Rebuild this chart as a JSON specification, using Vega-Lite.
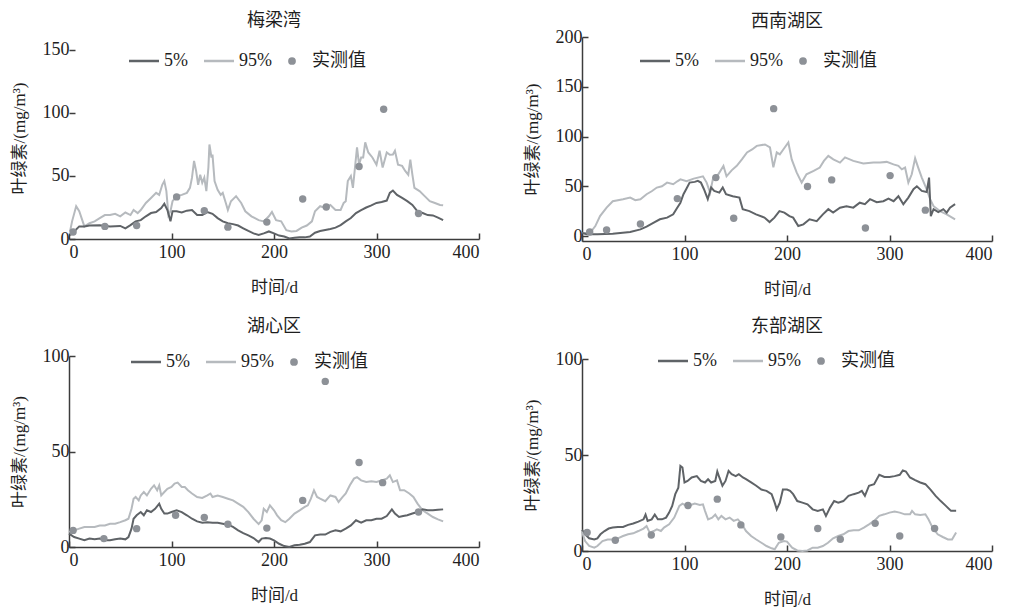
{
  "$schema": "https://vega.github.io/schema/vega-lite/v6.json",
  "padding": {"left": 10, "top": 12, "right": 5, "bottom": 2},
  "config": {
    "font": "Liberation Serif, Noto Sans CJK SC",
    "view": {"stroke": null},
    "axis": {"grid": false, "domainColor": "#3c3c3c", "tickColor": "#3c3c3c", "domainWidth": 1.5, "tickWidth": 1.5, "tickSize": -6, "labelColor": "#1e1e1e", "titleColor": "#1e1e1e", "labelFont": "Liberation Serif", "labelFontSize": 18, "titleFont": "Liberation Serif, Noto Sans CJK SC", "titleFontSize": 17, "titleFontWeight": "normal", "labelPadding": 6, "titlePadding": 14},
    "axisX": {"labelPadding": 10, "titlePadding": 18},
    "title": {"font": "Liberation Serif, Noto Sans CJK SC", "fontSize": 18, "fontWeight": "normal", "color": "#1e1e1e", "anchor": "middle"},
    "legend": {"orient": "none", "direction": "horizontal", "title": null, "labelFont": "Liberation Serif, Noto Sans CJK SC", "labelFontSize": 18, "labelColor": "#1e1e1e", "symbolSize": 900, "symbolType": "stroke", "symbolStrokeWidth": 2.5, "columnPadding": 11, "labelOffset": 11}
  },
  "datasets": {
    "p1": [
      {"s":"95%","d":1,"v":6},{"s":"95%","d":3,"v":14},{"s":"95%","d":7,"v":26},{"s":"95%","d":10,"v":22},{"s":"95%","d":15,"v":10},{"s":"95%","d":20,"v":12.5},{"s":"95%","d":25,"v":14},{"s":"95%","d":30,"v":16.5},{"s":"95%","d":35,"v":19},{"s":"95%","d":40,"v":19},{"s":"95%","d":45,"v":20},{"s":"95%","d":50,"v":18},{"s":"95%","d":55,"v":21},{"s":"95%","d":60,"v":19},{"s":"95%","d":63,"v":23},{"s":"95%","d":67,"v":20.5},{"s":"95%","d":70,"v":23},{"s":"95%","d":75,"v":28.6},{"s":"95%","d":80,"v":32.6},{"s":"95%","d":85,"v":36.6},{"s":"95%","d":88,"v":35},{"s":"95%","d":91,"v":43},{"s":"95%","d":93,"v":46},{"s":"95%","d":95,"v":38},{"s":"95%","d":97,"v":19},{"s":"95%","d":99,"v":22},{"s":"95%","d":101,"v":30},{"s":"95%","d":105,"v":34},{"s":"95%","d":110,"v":35},{"s":"95%","d":115,"v":36.6},{"s":"95%","d":118,"v":40.6},{"s":"95%","d":120,"v":48.7},{"s":"95%","d":122,"v":62},{"s":"95%","d":124,"v":54},{"s":"95%","d":126,"v":43},{"s":"95%","d":128,"v":51},{"s":"95%","d":130,"v":44.6},{"s":"95%","d":132,"v":48.7},{"s":"95%","d":134,"v":38},{"s":"95%","d":136,"v":56.7},{"s":"95%","d":137,"v":75},{"s":"95%","d":139,"v":64.7},{"s":"95%","d":140,"v":67},{"s":"95%","d":142,"v":46},{"s":"95%","d":145,"v":39},{"s":"95%","d":148,"v":35},{"s":"95%","d":150,"v":36.6},{"s":"95%","d":153,"v":28.6},{"s":"95%","d":155,"v":23},{"s":"95%","d":158,"v":30},{"s":"95%","d":163,"v":34},{"s":"95%","d":168,"v":28.6},{"s":"95%","d":172,"v":22},{"s":"95%","d":178,"v":18},{"s":"95%","d":185,"v":15},{"s":"95%","d":190,"v":14},{"s":"95%","d":195,"v":18},{"s":"95%","d":198,"v":21.4},{"s":"95%","d":202,"v":15},{"s":"95%","d":207,"v":14},{"s":"95%","d":212,"v":7},{"s":"95%","d":217,"v":6},{"s":"95%","d":222,"v":6.4},{"s":"95%","d":227,"v":9},{"s":"95%","d":232,"v":10.7},{"s":"95%","d":237,"v":14},{"s":"95%","d":240,"v":22},{"s":"95%","d":245,"v":26},{"s":"95%","d":250,"v":24.6},{"s":"95%","d":255,"v":27},{"s":"95%","d":260,"v":23},{"s":"95%","d":265,"v":23},{"s":"95%","d":268,"v":28.6},{"s":"95%","d":270,"v":30},{"s":"95%","d":272,"v":46},{"s":"95%","d":275,"v":50},{"s":"95%","d":277,"v":40.6},{"s":"95%","d":279,"v":56.7},{"s":"95%","d":281,"v":72.7},{"s":"95%","d":283,"v":59},{"s":"95%","d":285,"v":64.7},{"s":"95%","d":287,"v":64.7},{"s":"95%","d":289,"v":76.7},{"s":"95%","d":292,"v":68.7},{"s":"95%","d":296,"v":64.7},{"s":"95%","d":300,"v":59},{"s":"95%","d":303,"v":70},{"s":"95%","d":306,"v":56.7},{"s":"95%","d":310,"v":68.7},{"s":"95%","d":313,"v":66.8},{"s":"95%","d":316,"v":67},{"s":"95%","d":318,"v":70},{"s":"95%","d":321,"v":59},{"s":"95%","d":325,"v":58},{"s":"95%","d":328,"v":54},{"s":"95%","d":331,"v":51},{"s":"95%","d":333,"v":63},{"s":"95%","d":335,"v":51},{"s":"95%","d":337,"v":40.6},{"s":"95%","d":342,"v":38},{"s":"95%","d":347,"v":34},{"s":"95%","d":352,"v":30},{"s":"95%","d":357,"v":28.6},{"s":"95%","d":362,"v":27},{"s":"95%","d":365,"v":26.7},
      {"s":"5%","d":1,"v":3},{"s":"5%","d":5,"v":6},{"s":"5%","d":10,"v":10},{"s":"5%","d":15,"v":10},{"s":"5%","d":20,"v":10.7},{"s":"5%","d":30,"v":11},{"s":"5%","d":40,"v":10},{"s":"5%","d":50,"v":10.4},{"s":"5%","d":55,"v":8.5},{"s":"5%","d":60,"v":11},{"s":"5%","d":65,"v":14},{"s":"5%","d":70,"v":15},{"s":"5%","d":75,"v":18},{"s":"5%","d":80,"v":20.6},{"s":"5%","d":85,"v":21.4},{"s":"5%","d":90,"v":24.6},{"s":"5%","d":93,"v":28},{"s":"5%","d":96,"v":23},{"s":"5%","d":99,"v":14},{"s":"5%","d":101,"v":22},{"s":"5%","d":105,"v":22},{"s":"5%","d":110,"v":21},{"s":"5%","d":115,"v":22.5},{"s":"5%","d":120,"v":23},{"s":"5%","d":125,"v":19},{"s":"5%","d":130,"v":19},{"s":"5%","d":135,"v":21.4},{"s":"5%","d":140,"v":20},{"s":"5%","d":145,"v":16.6},{"s":"5%","d":150,"v":14},{"s":"5%","d":155,"v":12.5},{"s":"5%","d":160,"v":11.8},{"s":"5%","d":165,"v":10.7},{"s":"5%","d":170,"v":8.5},{"s":"5%","d":175,"v":6.4},{"s":"5%","d":180,"v":4.5},{"s":"5%","d":185,"v":3.2},{"s":"5%","d":190,"v":4.5},{"s":"5%","d":195,"v":6},{"s":"5%","d":200,"v":4.5},{"s":"5%","d":205,"v":2.7},{"s":"5%","d":210,"v":2},{"s":"5%","d":215,"v":0.5},{"s":"5%","d":220,"v":1},{"s":"5%","d":225,"v":1.3},{"s":"5%","d":230,"v":1.3},{"s":"5%","d":235,"v":2},{"s":"5%","d":240,"v":5},{"s":"5%","d":245,"v":6.4},{"s":"5%","d":250,"v":7.2},{"s":"5%","d":255,"v":8},{"s":"5%","d":260,"v":9},{"s":"5%","d":265,"v":11},{"s":"5%","d":270,"v":14},{"s":"5%","d":275,"v":16.6},{"s":"5%","d":280,"v":20.6},{"s":"5%","d":285,"v":23},{"s":"5%","d":290,"v":25},{"s":"5%","d":295,"v":26.7},{"s":"5%","d":300,"v":28.6},{"s":"5%","d":305,"v":29.4},{"s":"5%","d":310,"v":30.5},{"s":"5%","d":313,"v":36.6},{"s":"5%","d":316,"v":38.5},{"s":"5%","d":320,"v":35},{"s":"5%","d":325,"v":32.6},{"s":"5%","d":330,"v":30},{"s":"5%","d":335,"v":27},{"s":"5%","d":340,"v":22},{"s":"5%","d":345,"v":20.6},{"s":"5%","d":350,"v":19},{"s":"5%","d":355,"v":18.7},{"s":"5%","d":360,"v":17},{"s":"5%","d":365,"v":15},
      {"s":"实测值","d":4,"v":5.5},{"s":"实测值","d":35,"v":10},{"s":"实测值","d":66,"v":10.7},{"s":"实测值","d":105,"v":33.4},{"s":"实测值","d":132,"v":22.5},{"s":"实测值","d":155,"v":9.4},{"s":"实测值","d":193,"v":13.4},{"s":"实测值","d":228,"v":31.8},{"s":"实测值","d":251,"v":25.4},{"s":"实测值","d":283,"v":57.5},{"s":"实测值","d":307,"v":103},{"s":"实测值","d":341,"v":20.3}
    ],
    "p2": [
      {"s":"95%","d":0,"v":3},{"s":"95%","d":5,"v":3.4},{"s":"95%","d":10,"v":6},{"s":"95%","d":13,"v":10},{"s":"95%","d":17.6,"v":20},{"s":"95%","d":24,"v":28.5},{"s":"95%","d":30,"v":35},{"s":"95%","d":35,"v":36},{"s":"95%","d":40,"v":37},{"s":"95%","d":47,"v":38.6},{"s":"95%","d":52,"v":36},{"s":"95%","d":57,"v":37},{"s":"95%","d":63,"v":42},{"s":"95%","d":68,"v":45},{"s":"95%","d":73,"v":48.7},{"s":"95%","d":78,"v":50},{"s":"95%","d":83,"v":53.7},{"s":"95%","d":89,"v":52},{"s":"95%","d":93,"v":55},{"s":"95%","d":96,"v":57},{"s":"95%","d":102,"v":55},{"s":"95%","d":109,"v":57.7},{"s":"95%","d":118,"v":60},{"s":"95%","d":121.6,"v":53.7},{"s":"95%","d":125,"v":43.6},{"s":"95%","d":128,"v":58.7},{"s":"95%","d":133,"v":62},{"s":"95%","d":138,"v":70.5},{"s":"95%","d":141,"v":60},{"s":"95%","d":146,"v":66},{"s":"95%","d":151,"v":70.5},{"s":"95%","d":156,"v":77},{"s":"95%","d":161,"v":84},{"s":"95%","d":166,"v":87},{"s":"95%","d":170.5,"v":90.6},{"s":"95%","d":178.5,"v":92},{"s":"95%","d":183.4,"v":89},{"s":"95%","d":186.7,"v":69},{"s":"95%","d":190,"v":84},{"s":"95%","d":193,"v":82},{"s":"95%","d":196.4,"v":87},{"s":"95%","d":201.3,"v":94},{"s":"95%","d":204.6,"v":77},{"s":"95%","d":209.4,"v":64},{"s":"95%","d":214.3,"v":53.7},{"s":"95%","d":219,"v":62},{"s":"95%","d":226,"v":65.4},{"s":"95%","d":232,"v":68.8},{"s":"95%","d":236,"v":75.5},{"s":"95%","d":240.3,"v":80.5},{"s":"95%","d":245.2,"v":77},{"s":"95%","d":251.7,"v":73.8},{"s":"95%","d":256.6,"v":79},{"s":"95%","d":264.7,"v":75.5},{"s":"95%","d":274.5,"v":73},{"s":"95%","d":284.3,"v":73.8},{"s":"95%","d":290.8,"v":73.8},{"s":"95%","d":297.3,"v":74.5},{"s":"95%","d":303.9,"v":72},{"s":"95%","d":308.7,"v":70.5},{"s":"95%","d":312,"v":67},{"s":"95%","d":315.2,"v":68.8},{"s":"95%","d":318.4,"v":53.7},{"s":"95%","d":321.7,"v":62},{"s":"95%","d":325,"v":78},{"s":"95%","d":328,"v":68.8},{"s":"95%","d":331.5,"v":58.7},{"s":"95%","d":336.3,"v":47},{"s":"95%","d":339.6,"v":37},{"s":"95%","d":343,"v":30},{"s":"95%","d":349.3,"v":25},{"s":"95%","d":355.8,"v":21.8},{"s":"95%","d":364,"v":16.8},
      {"s":"5%","d":0,"v":3},{"s":"5%","d":5,"v":1.7},{"s":"5%","d":15,"v":1.7},{"s":"5%","d":30,"v":2.3},{"s":"5%","d":47,"v":4},{"s":"5%","d":57,"v":6.7},{"s":"5%","d":63,"v":9.4},{"s":"5%","d":70,"v":13.4},{"s":"5%","d":76,"v":16.8},{"s":"5%","d":83,"v":18.5},{"s":"5%","d":89,"v":21.8},{"s":"5%","d":92,"v":27},{"s":"5%","d":96,"v":33.5},{"s":"5%","d":99,"v":42},{"s":"5%","d":102,"v":47.7},{"s":"5%","d":105,"v":53.7},{"s":"5%","d":110,"v":54.4},{"s":"5%","d":113,"v":55.4},{"s":"5%","d":116,"v":53.7},{"s":"5%","d":119,"v":47},{"s":"5%","d":122.7,"v":37},{"s":"5%","d":126,"v":48.7},{"s":"5%","d":129,"v":45.3},{"s":"5%","d":134,"v":43.6},{"s":"5%","d":137.3,"v":48.7},{"s":"5%","d":140.5,"v":42},{"s":"5%","d":147,"v":40},{"s":"5%","d":153.6,"v":38.6},{"s":"5%","d":156.8,"v":27},{"s":"5%","d":163.3,"v":25},{"s":"5%","d":169.8,"v":21.8},{"s":"5%","d":178,"v":18.5},{"s":"5%","d":183,"v":14},{"s":"5%","d":187.7,"v":18.5},{"s":"5%","d":192.6,"v":25},{"s":"5%","d":197.4,"v":23.5},{"s":"5%","d":202.4,"v":20},{"s":"5%","d":206,"v":18.5},{"s":"5%","d":211,"v":10},{"s":"5%","d":216,"v":11.7},{"s":"5%","d":222,"v":16.8},{"s":"5%","d":229,"v":15},{"s":"5%","d":235,"v":21.8},{"s":"5%","d":240.3,"v":27},{"s":"5%","d":245,"v":23.5},{"s":"5%","d":251.7,"v":28.5},{"s":"5%","d":258,"v":30},{"s":"5%","d":264.7,"v":28.5},{"s":"5%","d":271,"v":33.5},{"s":"5%","d":276,"v":32},{"s":"5%","d":281,"v":37},{"s":"5%","d":287.5,"v":34},{"s":"5%","d":294,"v":35},{"s":"5%","d":299,"v":37.6},{"s":"5%","d":304,"v":35},{"s":"5%","d":308.7,"v":40},{"s":"5%","d":313.5,"v":32},{"s":"5%","d":318.4,"v":38.6},{"s":"5%","d":323.4,"v":47},{"s":"5%","d":326.7,"v":50},{"s":"5%","d":331.5,"v":45.3},{"s":"5%","d":336.3,"v":44.3},{"s":"5%","d":338.6,"v":58.7},{"s":"5%","d":340.3,"v":20},{"s":"5%","d":343,"v":27},{"s":"5%","d":347.6,"v":24},{"s":"5%","d":352.5,"v":27},{"s":"5%","d":355.8,"v":23.5},{"s":"5%","d":359,"v":28.5},{"s":"5%","d":364,"v":32},
      {"s":"实测值","d":7.5,"v":4},{"s":"实测值","d":24,"v":6},{"s":"实测值","d":57,"v":12},{"s":"实测值","d":93,"v":37.6},{"s":"实测值","d":130.6,"v":58.7},{"s":"实测值","d":148,"v":17.8},{"s":"实测值","d":187,"v":128},{"s":"实测值","d":220,"v":49.7},{"s":"实测值","d":243.6,"v":56.4},{"s":"实测值","d":276.5,"v":8},{"s":"实测值","d":300.6,"v":60.7},{"s":"实测值","d":335,"v":26}
    ],
    "p3": [
      {"s":"95%","d":0,"v":7.9},{"s":"95%","d":5,"v":8.7},{"s":"95%","d":10,"v":9.6},{"s":"95%","d":15,"v":10.5},{"s":"95%","d":20,"v":10.5},{"s":"95%","d":25,"v":10.5},{"s":"95%","d":30,"v":11.3},{"s":"95%","d":35,"v":11.3},{"s":"95%","d":40,"v":12.2},{"s":"95%","d":45,"v":12.2},{"s":"95%","d":50,"v":13},{"s":"95%","d":55,"v":14},{"s":"95%","d":58,"v":14.8},{"s":"95%","d":61,"v":20},{"s":"95%","d":63,"v":25.3},{"s":"95%","d":65,"v":26.2},{"s":"95%","d":68,"v":24.4},{"s":"95%","d":70,"v":27},{"s":"95%","d":73,"v":28.8},{"s":"95%","d":76,"v":27},{"s":"95%","d":80,"v":30.5},{"s":"95%","d":83,"v":32.3},{"s":"95%","d":86,"v":29.7},{"s":"95%","d":88,"v":32.3},{"s":"95%","d":90,"v":27},{"s":"95%","d":93,"v":28.8},{"s":"95%","d":96,"v":30.5},{"s":"95%","d":100,"v":31.4},{"s":"95%","d":103,"v":33.2},{"s":"95%","d":106,"v":33.7},{"s":"95%","d":110,"v":31.4},{"s":"95%","d":113,"v":31.4},{"s":"95%","d":116,"v":29.7},{"s":"95%","d":120,"v":28},{"s":"95%","d":125,"v":26.2},{"s":"95%","d":130,"v":25.7},{"s":"95%","d":135,"v":27},{"s":"95%","d":138,"v":28},{"s":"95%","d":140,"v":26.2},{"s":"95%","d":145,"v":27},{"s":"95%","d":150,"v":26.2},{"s":"95%","d":155,"v":25.3},{"s":"95%","d":160,"v":24.4},{"s":"95%","d":165,"v":22.7},{"s":"95%","d":170,"v":21},{"s":"95%","d":175,"v":18.3},{"s":"95%","d":180,"v":14.8},{"s":"95%","d":185,"v":12},{"s":"95%","d":188,"v":14},{"s":"95%","d":190,"v":20},{"s":"95%","d":193,"v":18.3},{"s":"95%","d":196,"v":21.8},{"s":"95%","d":200,"v":19.2},{"s":"95%","d":203,"v":16.6},{"s":"95%","d":207,"v":14},{"s":"95%","d":211,"v":13},{"s":"95%","d":215,"v":14.8},{"s":"95%","d":220,"v":17.5},{"s":"95%","d":225,"v":19.2},{"s":"95%","d":230,"v":21},{"s":"95%","d":233,"v":21.8},{"s":"95%","d":236,"v":25.3},{"s":"95%","d":239,"v":29.7},{"s":"95%","d":242,"v":26.2},{"s":"95%","d":245,"v":25.3},{"s":"95%","d":250,"v":24},{"s":"95%","d":255,"v":27},{"s":"95%","d":260,"v":26.2},{"s":"95%","d":263,"v":23.6},{"s":"95%","d":267,"v":26.2},{"s":"95%","d":270,"v":28},{"s":"95%","d":274,"v":32.3},{"s":"95%","d":278,"v":35.8},{"s":"95%","d":281,"v":36.6},{"s":"95%","d":285,"v":34.9},{"s":"95%","d":290,"v":34},{"s":"95%","d":295,"v":34.4},{"s":"95%","d":300,"v":34},{"s":"95%","d":305,"v":34.9},{"s":"95%","d":310,"v":35.8},{"s":"95%","d":313,"v":37.5},{"s":"95%","d":316,"v":34},{"s":"95%","d":320,"v":34.9},{"s":"95%","d":323,"v":29.7},{"s":"95%","d":327,"v":29.7},{"s":"95%","d":332,"v":28},{"s":"95%","d":336,"v":26.2},{"s":"95%","d":340,"v":22.7},{"s":"95%","d":345,"v":19.2},{"s":"95%","d":350,"v":17.5},{"s":"95%","d":355,"v":15.7},{"s":"95%","d":360,"v":14.5},{"s":"95%","d":365,"v":13.4},
      {"s":"5%","d":0,"v":7},{"s":"5%","d":5,"v":5.2},{"s":"5%","d":10,"v":4.4},{"s":"5%","d":15,"v":3.5},{"s":"5%","d":20,"v":4.4},{"s":"5%","d":25,"v":4},{"s":"5%","d":30,"v":4.4},{"s":"5%","d":35,"v":3.5},{"s":"5%","d":40,"v":3.5},{"s":"5%","d":45,"v":4},{"s":"5%","d":50,"v":4.4},{"s":"5%","d":55,"v":4},{"s":"5%","d":58,"v":5.2},{"s":"5%","d":61,"v":9.6},{"s":"5%","d":63,"v":14.8},{"s":"5%","d":66,"v":16.6},{"s":"5%","d":70,"v":18.3},{"s":"5%","d":73,"v":16.6},{"s":"5%","d":76,"v":19.2},{"s":"5%","d":80,"v":18.3},{"s":"5%","d":84,"v":20},{"s":"5%","d":88,"v":22.7},{"s":"5%","d":90,"v":20},{"s":"5%","d":93,"v":17.5},{"s":"5%","d":96,"v":17.5},{"s":"5%","d":100,"v":18.3},{"s":"5%","d":105,"v":19.2},{"s":"5%","d":110,"v":18.3},{"s":"5%","d":115,"v":16.6},{"s":"5%","d":120,"v":14.8},{"s":"5%","d":125,"v":13.4},{"s":"5%","d":130,"v":12.7},{"s":"5%","d":135,"v":13},{"s":"5%","d":140,"v":12.7},{"s":"5%","d":145,"v":12.7},{"s":"5%","d":150,"v":12.2},{"s":"5%","d":155,"v":11.7},{"s":"5%","d":160,"v":10.5},{"s":"5%","d":165,"v":8.7},{"s":"5%","d":170,"v":7.3},{"s":"5%","d":175,"v":6.1},{"s":"5%","d":180,"v":4.7},{"s":"5%","d":185,"v":2.6},{"s":"5%","d":188,"v":4.4},{"s":"5%","d":192,"v":4.7},{"s":"5%","d":196,"v":4.4},{"s":"5%","d":200,"v":3.5},{"s":"5%","d":205,"v":1.7},{"s":"5%","d":210,"v":0.5},{"s":"5%","d":215,"v":0},{"s":"5%","d":220,"v":0.9},{"s":"5%","d":225,"v":1.2},{"s":"5%","d":230,"v":1.7},{"s":"5%","d":235,"v":2.6},{"s":"5%","d":240,"v":6.1},{"s":"5%","d":245,"v":6.5},{"s":"5%","d":250,"v":6.5},{"s":"5%","d":255,"v":7.9},{"s":"5%","d":260,"v":8.7},{"s":"5%","d":265,"v":8.2},{"s":"5%","d":270,"v":9.6},{"s":"5%","d":275,"v":11.3},{"s":"5%","d":280,"v":14},{"s":"5%","d":285,"v":12.7},{"s":"5%","d":290,"v":14},{"s":"5%","d":295,"v":14},{"s":"5%","d":300,"v":14.8},{"s":"5%","d":305,"v":14.8},{"s":"5%","d":310,"v":16.2},{"s":"5%","d":315,"v":19.7},{"s":"5%","d":318,"v":17.5},{"s":"5%","d":322,"v":15.7},{"s":"5%","d":326,"v":16.2},{"s":"5%","d":330,"v":16.6},{"s":"5%","d":335,"v":17.5},{"s":"5%","d":340,"v":18.3},{"s":"5%","d":345,"v":19.7},{"s":"5%","d":350,"v":19.2},{"s":"5%","d":355,"v":19.2},{"s":"5%","d":360,"v":19.5},{"s":"5%","d":365,"v":19.7},
      {"s":"实测值","d":4,"v":8.7},{"s":"实测值","d":34,"v":4.4},{"s":"实测值","d":66,"v":9.6},{"s":"实测值","d":104,"v":16.6},{"s":"实测值","d":132,"v":15.5},{"s":"实测值","d":155,"v":11.9},{"s":"实测值","d":193,"v":9.9},{"s":"实测值","d":228,"v":24.4},{"s":"实测值","d":250,"v":86.7},{"s":"实测值","d":283,"v":44.2},{"s":"实测值","d":306,"v":33.7},{"s":"实测值","d":341,"v":18.3}
    ],
    "p4": [
      {"s":"5%","d":0,"v":11},{"s":"5%","d":3,"v":8.7},{"s":"5%","d":7,"v":6.6},{"s":"5%","d":12,"v":6},{"s":"5%","d":15,"v":6.6},{"s":"5%","d":18,"v":8.7},{"s":"5%","d":22,"v":10.4},{"s":"5%","d":26,"v":11.7},{"s":"5%","d":30,"v":12.2},{"s":"5%","d":35,"v":12.5},{"s":"5%","d":40,"v":12.5},{"s":"5%","d":45,"v":13.6},{"s":"5%","d":50,"v":14.3},{"s":"5%","d":55,"v":15.3},{"s":"5%","d":60,"v":16.5},{"s":"5%","d":62,"v":19},{"s":"5%","d":64,"v":15.7},{"s":"5%","d":68,"v":16.5},{"s":"5%","d":71,"v":19},{"s":"5%","d":74,"v":16.5},{"s":"5%","d":78,"v":16.5},{"s":"5%","d":82,"v":17.4},{"s":"5%","d":85,"v":20},{"s":"5%","d":88,"v":23.5},{"s":"5%","d":91,"v":29.6},{"s":"5%","d":94,"v":33},{"s":"5%","d":96,"v":44.3},{"s":"5%","d":98,"v":43.5},{"s":"5%","d":100,"v":35.7},{"s":"5%","d":103,"v":36.5},{"s":"5%","d":107,"v":38.3},{"s":"5%","d":112,"v":39},{"s":"5%","d":116,"v":36.5},{"s":"5%","d":120,"v":35.7},{"s":"5%","d":123,"v":37.4},{"s":"5%","d":126,"v":35.7},{"s":"5%","d":130,"v":36.5},{"s":"5%","d":132,"v":41.4},{"s":"5%","d":134,"v":38.3},{"s":"5%","d":137,"v":34},{"s":"5%","d":140,"v":36.5},{"s":"5%","d":143,"v":41.7},{"s":"5%","d":146,"v":40},{"s":"5%","d":150,"v":39},{"s":"5%","d":153,"v":40},{"s":"5%","d":157,"v":38.3},{"s":"5%","d":160,"v":37.4},{"s":"5%","d":165,"v":35.7},{"s":"5%","d":170,"v":34},{"s":"5%","d":175,"v":32},{"s":"5%","d":180,"v":31.3},{"s":"5%","d":185,"v":29.6},{"s":"5%","d":188,"v":25.2},{"s":"5%","d":190,"v":21.7},{"s":"5%","d":193,"v":25.2},{"s":"5%","d":196,"v":32},{"s":"5%","d":200,"v":32},{"s":"5%","d":203,"v":31.3},{"s":"5%","d":206,"v":29.6},{"s":"5%","d":210,"v":26},{"s":"5%","d":215,"v":25.2},{"s":"5%","d":220,"v":24.3},{"s":"5%","d":225,"v":21.7},{"s":"5%","d":230,"v":20.9},{"s":"5%","d":235,"v":21.7},{"s":"5%","d":238,"v":18.3},{"s":"5%","d":242,"v":22.6},{"s":"5%","d":246,"v":26},{"s":"5%","d":250,"v":25.2},{"s":"5%","d":255,"v":26},{"s":"5%","d":260,"v":28.7},{"s":"5%","d":265,"v":29.6},{"s":"5%","d":270,"v":30.4},{"s":"5%","d":273,"v":31.3},{"s":"5%","d":276,"v":28.7},{"s":"5%","d":280,"v":34},{"s":"5%","d":285,"v":34.8},{"s":"5%","d":290,"v":39.7},{"s":"5%","d":295,"v":38.6},{"s":"5%","d":300,"v":38.6},{"s":"5%","d":305,"v":39},{"s":"5%","d":310,"v":39.7},{"s":"5%","d":313,"v":42},{"s":"5%","d":316,"v":41.4},{"s":"5%","d":320,"v":38.3},{"s":"5%","d":325,"v":36.9},{"s":"5%","d":330,"v":35.7},{"s":"5%","d":335,"v":34.8},{"s":"5%","d":340,"v":32},{"s":"5%","d":345,"v":28.7},{"s":"5%","d":350,"v":26},{"s":"5%","d":355,"v":23.5},{"s":"5%","d":360,"v":20.9},{"s":"5%","d":365,"v":20.9},
      {"s":"95%","d":0,"v":10},{"s":"95%","d":3,"v":5.2},{"s":"95%","d":7,"v":2.6},{"s":"95%","d":12,"v":1.7},{"s":"95%","d":15,"v":2.6},{"s":"95%","d":20,"v":5.2},{"s":"95%","d":25,"v":6},{"s":"95%","d":30,"v":6},{"s":"95%","d":35,"v":6.6},{"s":"95%","d":40,"v":7.8},{"s":"95%","d":45,"v":8.7},{"s":"95%","d":50,"v":9.2},{"s":"95%","d":55,"v":10.4},{"s":"95%","d":60,"v":11.7},{"s":"95%","d":63,"v":13},{"s":"95%","d":66,"v":9.6},{"s":"95%","d":70,"v":10.4},{"s":"95%","d":73,"v":11.3},{"s":"95%","d":77,"v":10.4},{"s":"95%","d":80,"v":12.2},{"s":"95%","d":85,"v":13.9},{"s":"95%","d":90,"v":17.4},{"s":"95%","d":95,"v":23.5},{"s":"95%","d":98,"v":24.7},{"s":"95%","d":102,"v":23.5},{"s":"95%","d":106,"v":24},{"s":"95%","d":110,"v":24.7},{"s":"95%","d":115,"v":24},{"s":"95%","d":118,"v":24.3},{"s":"95%","d":120,"v":20.9},{"s":"95%","d":123,"v":16.5},{"s":"95%","d":127,"v":17.4},{"s":"95%","d":130,"v":19},{"s":"95%","d":133,"v":16.5},{"s":"95%","d":136,"v":18.3},{"s":"95%","d":140,"v":16.5},{"s":"95%","d":144,"v":17.4},{"s":"95%","d":148,"v":15.7},{"s":"95%","d":152,"v":16.5},{"s":"95%","d":155,"v":14.8},{"s":"95%","d":160,"v":10.4},{"s":"95%","d":165,"v":7.8},{"s":"95%","d":170,"v":6},{"s":"95%","d":175,"v":4.3},{"s":"95%","d":180,"v":2.6},{"s":"95%","d":185,"v":1.4},{"s":"95%","d":188,"v":0.9},{"s":"95%","d":192,"v":4.3},{"s":"95%","d":197,"v":5.2},{"s":"95%","d":200,"v":4.9},{"s":"95%","d":205,"v":1.7},{"s":"95%","d":210,"v":0.3},{"s":"95%","d":215,"v":0},{"s":"95%","d":220,"v":0.3},{"s":"95%","d":225,"v":1.7},{"s":"95%","d":230,"v":1.7},{"s":"95%","d":235,"v":2.6},{"s":"95%","d":240,"v":4.3},{"s":"95%","d":245,"v":6.6},{"s":"95%","d":250,"v":7.8},{"s":"95%","d":255,"v":8.7},{"s":"95%","d":260,"v":10.4},{"s":"95%","d":265,"v":10.8},{"s":"95%","d":270,"v":10.8},{"s":"95%","d":275,"v":12.2},{"s":"95%","d":280,"v":13.9},{"s":"95%","d":285,"v":15.7},{"s":"95%","d":290,"v":18.3},{"s":"95%","d":295,"v":19.1},{"s":"95%","d":300,"v":20},{"s":"95%","d":305,"v":20.5},{"s":"95%","d":310,"v":20},{"s":"95%","d":315,"v":19.1},{"s":"95%","d":320,"v":19.1},{"s":"95%","d":322,"v":20.9},{"s":"95%","d":325,"v":19.1},{"s":"95%","d":330,"v":18.8},{"s":"95%","d":335,"v":19.1},{"s":"95%","d":338,"v":16.5},{"s":"95%","d":342,"v":12.2},{"s":"95%","d":347,"v":8.7},{"s":"95%","d":352,"v":7.3},{"s":"95%","d":357,"v":6},{"s":"95%","d":361,"v":6},{"s":"95%","d":365,"v":9.6},
      {"s":"实测值","d":5,"v":9.6},{"s":"实测值","d":32.5,"v":5.6},{"s":"实测值","d":67.6,"v":8.3},{"s":"实测值","d":103.4,"v":23.7},{"s":"实测值","d":132,"v":27},{"s":"实测值","d":155,"v":13.6},{"s":"实测值","d":194,"v":7.3},{"s":"实测值","d":230,"v":11.7},{"s":"实测值","d":252,"v":6.1},{"s":"实测值","d":286,"v":14.4},{"s":"实测值","d":310,"v":7.8},{"s":"实测值","d":344,"v":11.7}
    ]
  },
  "resolve": {"scale": {"color": "independent"}, "legend": {"color": "independent"}},
  "spacing": 43,
  "hconcat": [
    {
      "spacing": 23,
      "resolve": {"scale": {"color": "independent"}, "legend": {"color": "independent"}},
      "vconcat": [
        {
          "width": 410, "height": 202,
          "title": {"text": "梅梁湾", "offset": 7},
          "encoding": {
            "x": {"field": "d", "type": "quantitative", "scale": {"domain": [0, 400], "nice": false}, "axis": {"values": [0, 100, 200, 300, 400], "title": "时间/d"}},
            "y": {"field": "v", "type": "quantitative", "scale": {"domain": [0, 160.3], "nice": false}, "axis": {"values": [0, 50, 100, 150], "title": "叶绿素/(mg/m³)", "domain": false}}
          },
          "layer": [
            {"data": {"name": "p1"}, "transform": [{"filter": "datum.s !== '实测值'"}], "mark": {"type": "line", "strokeWidth": 2},
              "encoding": {"color": {"field": "s", "type": "nominal", "scale": {"domain": ["5%", "95%", "实测值"], "range": ["#5f6367", "#b6babe", "#8d9197"]},
                "legend": {"legendX": 66, "legendY": 15, "encode": {"symbols": {"update": {
                  "shape": {"signal": "datum.value === '实测值' ? 'circle' : 'stroke'"},
                  "size": {"signal": "datum.value === '实测值' ? 60 : 900"},
                  "fill": {"signal": "datum.value === '实测值' ? '#8d9197' : 'transparent'"},
                  "stroke": {"signal": "datum.value === '5%' ? '#5f6367' : (datum.value === '95%' ? '#b6babe' : 'transparent')"},
                  "strokeWidth": {"signal": "datum.value === '实测值' ? 0 : 2.5"},
                  "opacity": {"value": 1}}}}}}}},
            {"data": {"name": "p1"}, "transform": [{"filter": "datum.s === '实测值'"}], "mark": {"type": "circle", "size": 55, "opacity": 1},
              "encoding": {"color": {"field": "s", "type": "nominal", "scale": {"domain": ["5%", "95%", "实测值"], "range": ["#5f6367", "#b6babe", "#8d9197"]}}}},
            {"data": {"values": [{}]}, "mark": {"type": "rule", "color": "#3c3c3c", "strokeWidth": 1.5},
              "encoding": {"x": {"datum": 0}, "y": {"datum": 0}, "y2": {"datum": 150}}}
          ]
        },
        {
          "width": 410, "height": 191,
          "title": {"text": "湖心区", "offset": 11},
          "data": {"name": "p3"},
          "encoding": {
            "x": {"field": "d", "type": "quantitative", "scale": {"domain": [0, 400], "nice": false}, "axis": {"values": [0, 100, 200, 300, 400], "title": "时间/d"}},
            "y": {"field": "v", "type": "quantitative", "scale": {"domain": [0, 100], "nice": false}, "axis": {"values": [0, 50, 100], "title": "叶绿素/(mg/m³)"}},
            "color": {"field": "s", "type": "nominal", "scale": {"domain": ["5%", "95%", "实测值"], "range": ["#5f6367", "#b6babe", "#8d9197"]},
              "legend": {"legendX": 68, "legendY": -3, "encode": {"symbols": {"update": {
                "shape": {"signal": "datum.value === '实测值' ? 'circle' : 'stroke'"},
                "size": {"signal": "datum.value === '实测值' ? 60 : 900"},
                "fill": {"signal": "datum.value === '实测值' ? '#8d9197' : 'transparent'"},
                "stroke": {"signal": "datum.value === '5%' ? '#5f6367' : (datum.value === '95%' ? '#b6babe' : 'transparent')"},
                "strokeWidth": {"signal": "datum.value === '实测值' ? 0 : 2.5"},
                "opacity": {"value": 1}}}}}}
          },
          "layer": [
            {"transform": [{"filter": "datum.s !== '实测值'"}], "mark": {"type": "line", "strokeWidth": 2}},
            {"transform": [{"filter": "datum.s === '实测值'"}], "mark": {"type": "circle", "size": 55, "opacity": 1}}
          ]
        }
      ]
    },
    {
      "spacing": 21,
      "resolve": {"scale": {"color": "independent"}, "legend": {"color": "independent"}},
      "vconcat": [
        {
          "width": 410, "height": 204,
          "title": {"text": "西南湖区", "offset": -3},
          "data": {"name": "p2"},
          "encoding": {
            "x": {"field": "d", "type": "quantitative", "scale": {"domain": [0, 400], "nice": false}, "axis": {"values": [0, 100, 200, 300, 400], "title": "时间/d"}},
            "y": {"field": "v", "type": "quantitative", "scale": {"domain": [-5, 200], "nice": false, "zero": false}, "axis": {"values": [0, 50, 100, 150, 200], "title": "叶绿素/(mg/m³)"}},
            "color": {"field": "s", "type": "nominal", "scale": {"domain": ["5%", "95%", "实测值"], "range": ["#5f6367", "#b6babe", "#8d9197"]},
              "legend": {"legendX": 64, "legendY": 15, "encode": {"symbols": {"update": {
                "shape": {"signal": "datum.value === '实测值' ? 'circle' : 'stroke'"},
                "size": {"signal": "datum.value === '实测值' ? 60 : 900"},
                "fill": {"signal": "datum.value === '实测值' ? '#8d9197' : 'transparent'"},
                "stroke": {"signal": "datum.value === '5%' ? '#5f6367' : (datum.value === '95%' ? '#b6babe' : 'transparent')"},
                "strokeWidth": {"signal": "datum.value === '实测值' ? 0 : 2.5"},
                "opacity": {"value": 1}}}}}}
          },
          "layer": [
            {"transform": [{"filter": "datum.s !== '实测值'"}], "mark": {"type": "line", "strokeWidth": 2}},
            {"transform": [{"filter": "datum.s === '实测值'"}], "mark": {"type": "circle", "size": 55, "opacity": 1}}
          ]
        },
        {
          "width": 410, "height": 192,
          "title": {"text": "东部湖区", "offset": 14},
          "data": {"name": "p4"},
          "encoding": {
            "x": {"field": "d", "type": "quantitative", "scale": {"domain": [0, 400], "nice": false}, "axis": {"values": [0, 100, 200, 300, 400], "title": "时间/d"}},
            "y": {"field": "v", "type": "quantitative", "scale": {"domain": [0, 100], "nice": false}, "axis": {"values": [0, 50, 100], "title": "叶绿素/(mg/m³)"}},
            "color": {"field": "s", "type": "nominal", "scale": {"domain": ["5%", "95%", "实测值"], "range": ["#5f6367", "#b6babe", "#8d9197"]},
              "legend": {"legendX": 82, "legendY": -7, "encode": {"symbols": {"update": {
                "shape": {"signal": "datum.value === '实测值' ? 'circle' : 'stroke'"},
                "size": {"signal": "datum.value === '实测值' ? 60 : 900"},
                "fill": {"signal": "datum.value === '实测值' ? '#8d9197' : 'transparent'"},
                "stroke": {"signal": "datum.value === '5%' ? '#5f6367' : (datum.value === '95%' ? '#b6babe' : 'transparent')"},
                "strokeWidth": {"signal": "datum.value === '实测值' ? 0 : 2.5"},
                "opacity": {"value": 1}}}}}}
          },
          "layer": [
            {"transform": [{"filter": "datum.s !== '实测值'"}], "mark": {"type": "line", "strokeWidth": 2}},
            {"transform": [{"filter": "datum.s === '实测值'"}], "mark": {"type": "circle", "size": 55, "opacity": 1}}
          ]
        }
      ]
    }
  ]
}
